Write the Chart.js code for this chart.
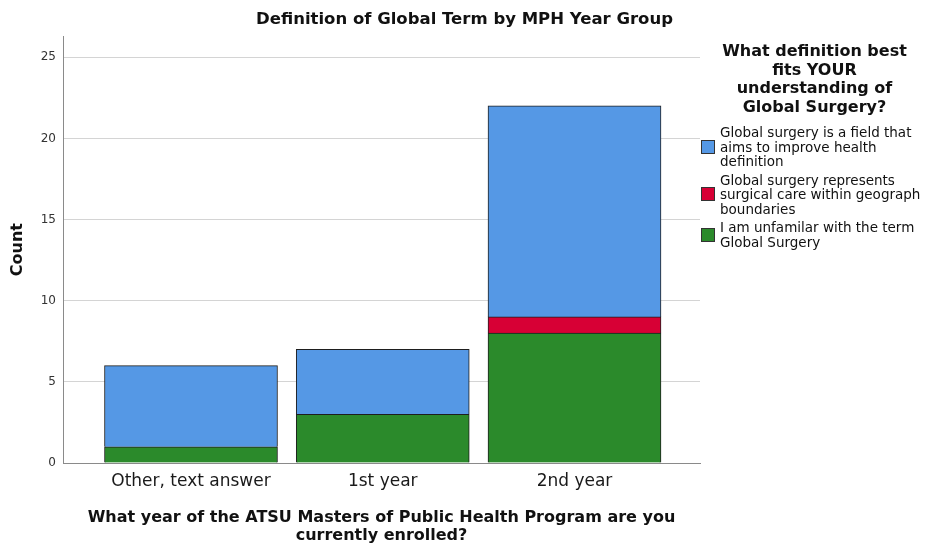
<!DOCTYPE html>
<html>
<head>
<meta charset="utf-8">
<script src="https://cdn.jsdelivr.net/npm/chart.js@4.4.0/dist/chart.umd.min.js"></script>
<style>
  body { margin: 0; background: #fff; font-family: "DejaVu Sans", sans-serif; }
  #wrap { position: relative; width: 929px; height: 543px; }
  #legend { position: absolute; left: 700px; top: 42px; width: 229px; color: #111; }
  #legend .ttl { font-weight: bold; font-size: 16px; line-height: 18.5px; text-align: center; margin-bottom: 9px; }
  #legend .item { position: relative; padding-left: 20px; font-size: 13.5px; line-height: 14.5px; margin-bottom: 4px; white-space: nowrap; }
  #legend .box { position: absolute; left: 1px; top: 50%; width: 14px; height: 14px; margin-top: -7px; border: 1px solid #333; box-sizing: border-box; }
</style>
</head>
<body>
<div id="wrap">
  <canvas id="myChart" width="929" height="543"></canvas>
  <div id="legend"></div>
</div>
<script>
const categories = ["Other, text answer", "1st year", "2nd year"];
const unfamiliar = [1, 3, 8];
const geographic = [0, 0, 1];
const improveHealth = [5, 4, 13];

const seriesNames = [
   ["I am unfamilar with the term", "Global Surgery"],
   ["Global surgery represents", "surgical care within geograph", "boundaries"],
   ["Global surgery is a field that", "aims to improve health", "definition"]
];
const seriesColors = ['#2b8a2b', '#d70035', '#5598e5'];
const legendTitle = ["What definition best", "fits YOUR", "understanding of", "Global Surgery?"];

function toPoints(arr){
   return arr.map((v, i) => ({ x: i, y: v }));
}

function buildLegend(){
   const div = document.querySelector('#legend');
   let html = '<div class="ttl">' + legendTitle.join('<br>') + '</div>';
   // legend lists the top of the stack first
   for (let i = seriesNames.length - 1; i >= 0; i--) {
      html += '<div class="item"><span class="box" style="background:' + seriesColors[i] + '"></span>' +
         seriesNames[i].join('<br>') + '</div>';
   }
   div.innerHTML = html;
}

const ctx = document.getElementById('myChart');
const allData = [unfamiliar, geographic, improveHealth];

const myChart = new Chart(ctx, {
   type: 'bar',
   data: {
      datasets: allData.map((arr, i) => ({
         label: seriesNames[i].join(' '),
         data: toPoints(arr),
         backgroundColor: seriesColors[i],
         borderColor: '#1e1e1e',
         borderWidth: 1,
         barThickness: 173
      }))
   },
   options: {
      responsive: false,
      animation: false,
      layout: { padding: 0 },
      plugins: {
         legend: { display: false },
         tooltip: { enabled: false },
         title: {
            display: true,
            text: 'Definition of Global Term by MPH Year Group',
            color: '#111',
            font: { family: 'DejaVu Sans', size: 16.5, weight: 'bold', lineHeight: 1.1 },
            padding: { top: 11, bottom: 7 }
         }
      },
      scales: {
         x: {
            type: 'linear',
            stacked: true,
            offset: false,
            min: -0.6675,
            max: 2.6545,
            afterBuildTicks: (s) => { s.ticks = [{ value: 0 }, { value: 1 }, { value: 2 }]; },
            afterFit: (s) => { s.height = 80; },
            grid: { display: false, drawTicks: false, offset: false },
            border: { display: true, color: '#8a8a8a', width: 1 },
            ticks: {
               padding: 9,
               color: '#1a1a1a',
               font: { family: 'DejaVu Sans', size: 17, lineHeight: 1.1 },
               callback: (v) => categories[v]
            },
            title: {
               display: true,
               text: ['What year of the ATSU Masters of Public Health Program are you', 'currently enrolled?'],
               color: '#111',
               font: { family: 'DejaVu Sans', size: 16, weight: 'bold', lineHeight: 1.08 },
               padding: { top: 10, bottom: -1 }
            }
         },
         y: {
            stacked: true,
            min: 0,
            max: 26.3,
            afterFit: (s) => { s.width = 63; },
            grid: { color: '#d4d4d4', drawTicks: false },
            border: { display: true, color: '#8a8a8a', width: 1 },
            ticks: {
               stepSize: 5,
               includeBounds: false,
               padding: 7,
               color: '#333',
               font: { family: 'DejaVu Sans', size: 12 }
            },
            title: {
               display: true,
               text: 'Count',
               color: '#111',
               font: { family: 'DejaVu Sans', size: 16, weight: 'bold' },
               padding: { top: 8, bottom: 0 }
            }
         },
         spacer: {
            type: 'linear',
            position: 'right',
            display: true,
            afterFit: (s) => { s.width = 229; },
            grid: { display: false },
            border: { display: false },
            ticks: { display: false }
         }
      }
   }
});

buildLegend();
</script>
</body>
</html>
